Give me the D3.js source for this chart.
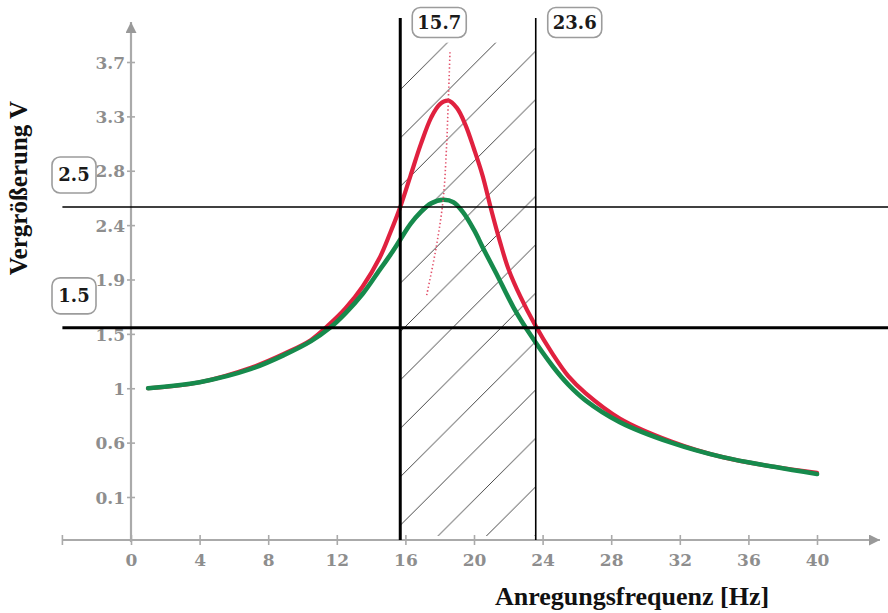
<!DOCTYPE html>
<html>
<head>
<meta charset="utf-8">
<script src="https://cdn.jsdelivr.net/npm/d3@7"></script>
<style>
  body { margin: 0; background: #fff; }
  svg { display: block; }
</style>
</head>
<body>
<svg id="chart" width="888" height="613"></svg>
<script>
// red curve (lower damping)
const redFreq  = [1, 4, 7, 9, 10.5, 11.5, 12.5, 13.5, 14.5, 15.1, 15.7, 16.3, 16.9, 17.5, 18, 18.5, 19, 19.5, 20, 20.5, 21, 21.5, 22, 22.7, 23.5, 24.6, 25.5, 26.5, 28.5, 31.5, 34.5, 37.5, 40];
const redValue = [1.00, 1.05, 1.17, 1.29, 1.40, 1.52, 1.66, 1.84, 2.08, 2.28, 2.50, 2.76, 3.02, 3.24, 3.35, 3.38, 3.32, 3.18, 2.98, 2.76, 2.48, 2.22, 1.99, 1.76, 1.54, 1.28, 1.10, 0.96, 0.75, 0.56, 0.43, 0.35, 0.30];

// green curve (higher damping)
const greenFreq  = [1, 4, 7, 9, 10.5, 11.6, 12.5, 13.5, 14.5, 15.1, 15.7, 16.3, 16.9, 17.5, 18.2, 18.8, 19.4, 20, 20.6, 21.3, 22.3, 23.3, 24.6, 25.5, 26.5, 28.5, 31.5, 34.5, 37.5, 40];
const greenValue = [1.00, 1.05, 1.16, 1.28, 1.39, 1.50, 1.62, 1.78, 1.98, 2.10, 2.23, 2.36, 2.46, 2.53, 2.56, 2.54, 2.45, 2.31, 2.14, 1.95, 1.67, 1.44, 1.18, 1.03, 0.90, 0.72, 0.55, 0.43, 0.35, 0.29];

// dotted line through the maxima
const peakFreq  = [17.24, 17.8, 18.2, 18.4, 18.5, 18.6];
const peakValue = [1.77, 2.17, 2.56, 3.0, 3.37, 3.78];

// marker lines and their labels
const freqMarks  = [15.7, 23.6];
const valueMarks = [2.5, 1.5];

// axes
const xTicks = [0, 4, 8, 12, 16, 20, 24, 28, 32, 36, 40];
const yTickValues = [0.1, 0.55, 1, 1.45, 1.9, 2.35, 2.8, 3.25, 3.7];
const yTickLabels = ["0.1", "0.6", "1", "1.5", "1.9", "2.4", "2.8", "3.3", "3.7"];

const svg = d3.select("#chart");
const x = d3.scaleLinear().domain([0, 40]).range([131, 817]);
const y = d3.scaleLinear().domain([0.1, 3.7]).range([497, 62]);
const baseY = 540;   // where the x axis sits
const topY = 18;     // top end of the marker verticals
const leftX = x(-4);
const axisGray = "#aaaaaa";
const tickFont = "DejaVu Serif, serif";

const defs = svg.append("defs");
const h = 48.4;
defs.append("pattern")
  .attr("id", "hatch")
  .attr("patternUnits", "userSpaceOnUse")
  .attr("x", 6).attr("y", 0)
  .attr("width", h).attr("height", h)
  .append("path")
  .attr("d", `M-2,2L2,-2M0,${h}L${h},0M${h - 2},${h + 2}L${h + 2},${h - 2}`)
  .attr("stroke", "#333")
  .attr("stroke-width", 0.9);

defs.append("marker")
  .attr("id", "arrow")
  .attr("markerUnits", "userSpaceOnUse")
  .attr("viewBox", "0 0 10 10")
  .attr("refX", 10).attr("refY", 5)
  .attr("markerWidth", 11).attr("markerHeight", 11)
  .attr("orient", "auto")
  .append("path")
  .attr("d", "M0,0L10,5L0,10Z")
  .attr("fill", "#999");

// hatched band between the two frequencies
svg.append("rect")
  .attr("x", x(freqMarks[0]))
  .attr("y", y(3.86))
  .attr("width", x(freqMarks[1]) - x(freqMarks[0]))
  .attr("height", baseY - 4 - y(3.86))
  .attr("fill", "url(#hatch)");

// x axis
const gx = svg.append("g").attr("transform", `translate(0,${baseY})`);
gx.append("line")
  .attr("x1", leftX).attr("x2", 880)
  .attr("stroke", axisGray).attr("stroke-width", 2.2)
  .attr("marker-end", "url(#arrow)");
gx.call(d3.axisBottom(x).tickValues(xTicks).tickSize(5))
  .call(g => g.select(".domain").remove());
gx.selectAll(".tick line").attr("y1", -5).attr("y2", 5).attr("stroke", axisGray).attr("stroke-width", 1.6);
gx.selectAll(".tick text")
  .attr("y", 26).attr("dy", null)
  .attr("fill", "#8e8e8e")
  .style("font", "bold 17px " + tickFont);
gx.append("line")
  .attr("x1", leftX).attr("x2", leftX).attr("y1", -5).attr("y2", 5)
  .attr("stroke", axisGray).attr("stroke-width", 1.6);

// y axis
const gy = svg.append("g").attr("transform", `translate(${x(0)},0)`);
gy.append("line")
  .attr("y1", baseY + 2).attr("y2", 22)
  .attr("stroke", axisGray).attr("stroke-width", 2.2)
  .attr("marker-end", "url(#arrow)");
gy.call(d3.axisLeft(y).tickValues(yTickValues).tickFormat((d, i) => yTickLabels[i]).tickSize(4))
  .call(g => g.select(".domain").remove());
gy.selectAll(".tick line").attr("x1", -4).attr("x2", 4).attr("stroke", axisGray).attr("stroke-width", 1.6);
gy.selectAll(".tick text")
  .attr("x", -6).attr("dy", "0.36em")
  .attr("fill", "#8e8e8e")
  .style("font", "bold 17px " + tickFont);

// curves
const line = d3.line()
  .x(d => x(d[0]))
  .y(d => y(d[1]))
  .curve(d3.curveCatmullRom.alpha(0.5));

svg.append("path")
  .datum(redFreq.map((f, i) => [f, redValue[i]]))
  .attr("d", line)
  .attr("fill", "none")
  .attr("stroke", "#e0213f")
  .attr("stroke-width", 4.2)
  .attr("stroke-linecap", "round");

svg.append("path")
  .datum(greenFreq.map((f, i) => [f, greenValue[i]]))
  .attr("d", line)
  .attr("fill", "none")
  .attr("stroke", "#168a4c")
  .attr("stroke-width", 4.6)
  .attr("stroke-linecap", "round");

svg.append("path")
  .datum(peakFreq.map((f, i) => [f, peakValue[i]]))
  .attr("d", line)
  .attr("fill", "none")
  .attr("stroke", "#e2506a")
  .attr("stroke-width", 1.6)
  .attr("stroke-dasharray", "1.4,2.4");

// marker lines
svg.selectAll(".vmark")
  .data(freqMarks)
  .enter()
  .append("line")
  .attr("x1", d => x(d)).attr("x2", d => x(d))
  .attr("y1", topY).attr("y2", baseY)
  .attr("stroke", "#000")
  .attr("stroke-width", (d, i) => i === 0 ? 3 : 1.6);

svg.selectAll(".hmark")
  .data(valueMarks)
  .enter()
  .append("line")
  .attr("x1", leftX).attr("x2", 888)
  .attr("y1", d => y(d)).attr("y2", d => y(d))
  .attr("stroke", "#000")
  .attr("stroke-width", (d, i) => i === 0 ? 1.6 : 3);

// label boxes
function labelBox(cx, cy, w, bh, text) {
  const g = svg.append("g").attr("transform", `translate(${cx},${cy})`);
  g.append("rect")
    .attr("x", -w / 2).attr("y", -bh / 2)
    .attr("width", w).attr("height", bh)
    .attr("rx", 8)
    .attr("fill", "#fff")
    .attr("stroke", "#9c9c9c")
    .attr("stroke-width", 1.6);
  g.append("text")
    .attr("text-anchor", "middle")
    .attr("dy", "0.36em")
    .attr("fill", "#1a1a1a")
    .style("font", "bold 18px " + tickFont)
    .text(text);
}
freqMarks.forEach(d => labelBox(x(d) + 39, 22.5, 54, 30, d.toFixed(1)));
valueMarks.forEach(d => labelBox(74, y(d) - 32, 44, 36, d.toFixed(1)));

// titles
svg.append("text")
  .attr("transform", "translate(27,188) rotate(-90)")
  .attr("text-anchor", "middle")
  .style("font", "bold 25px 'Liberation Serif', serif")
  .attr("fill", "#111")
  .text("Vergrößerung V");

svg.append("text")
  .attr("x", 632).attr("y", 605)
  .attr("text-anchor", "middle")
  .style("font", "bold 26px 'Liberation Serif', serif")
  .attr("fill", "#111")
  .text("Anregungsfrequenz [Hz]");
</script>
</body>
</html>
